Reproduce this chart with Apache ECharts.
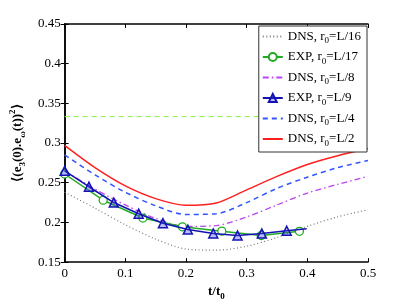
<!DOCTYPE html>
<html><head><meta charset="utf-8">
<script src="https://cdn.jsdelivr.net/npm/echarts@6/dist/echarts.min.js"></script>
<style>html,body{margin:0;padding:0;background:#fff}#c{width:407px;height:306px}</style>
</head><body><div id="c"></div>
<script>
// DNS curves sampled at t/t0
const tDNS = [0, 0.05, 0.1, 0.15, 0.2, 0.25, 0.3, 0.35, 0.4, 0.45, 0.5];
const dnsL16 = [0.238, 0.218, 0.197, 0.179, 0.1665, 0.165, 0.170, 0.181, 0.195, 0.207, 0.216];
const dnsL8  = [0.265, 0.242, 0.222, 0.205, 0.195, 0.196, 0.207, 0.222, 0.237, 0.248, 0.258];
const dnsL4  = [0.285, 0.260, 0.238, 0.221, 0.210, 0.211, 0.225, 0.243, 0.257, 0.269, 0.278];
const dnsL2  = [0.297, 0.269, 0.246, 0.230, 0.2215, 0.2245, 0.241, 0.258, 0.273, 0.284, 0.293];
// experiments
const tExp17 = [0, 0.0635, 0.129, 0.194, 0.259, 0.324, 0.387];
const expL17 = [0.261, 0.228, 0.2055, 0.1945, 0.189, 0.1835, 0.1888];
const tExp9 = [0, 0.04, 0.081, 0.122, 0.162, 0.203, 0.245, 0.285, 0.325, 0.366, 0.399];
const expL9 = [0.265, 0.245, 0.225, 0.211, 0.199, 0.191, 0.186, 0.1835, 0.186, 0.1895, 0.192];
const exp9Marked = [1, 1, 1, 1, 1, 1, 1, 1, 1, 1, 0];
// reference level 1/3
const tRef = [0, 0.5];
const refLevel = [1/3, 1/3];
const xTicks = [0, 0.1, 0.2, 0.3, 0.4, 0.5];
const yTicks = [0.15, 0.2, 0.25, 0.3, 0.35, 0.4, 0.45];
const names = ['DNS, r0=L/16', 'EXP, r0=L/17', 'DNS, r0=L/8', 'EXP, r0=L/9', 'DNS, r0=L/4', 'DNS, r0=L/2'];

const zip = (xs, ys) => xs.map((x, i) => [x, ys[i]]);
const font = 'Liberation Serif';
const chart = echarts.init(document.getElementById('c'));
const axBase = {
  type: 'value', axisLine: {show: true, lineStyle: {color: '#000', width: 1.5}},
  axisTick: {show: true, inside: true, length: 4, lineStyle: {color: '#000', width: 1}},
  splitLine: {show: false},
};
chart.setOption({
  animation: false,
  grid: {left: 54, right: 39, top: 24, bottom: 35},
  xAxis: [
    Object.assign({}, axBase, {min: 0, max: 0.5, interval: 0.1, position: 'bottom',
      axisLabel: {fontFamily: font, fontSize: 13, color: '#000', margin: 5},
      name: 't/t{s|0}', nameLocation: 'middle', nameGap: 15,
      nameTextStyle: {fontFamily: font, fontSize: 13, fontWeight: 'bold', color: '#000', verticalAlign: 'top',
        rich: {s: {fontFamily: font, fontSize: 9, fontWeight: 'bold', padding: [10, 0, 0, 0]}}}}),
    Object.assign({}, axBase, {min: 0, max: 0.5, interval: 0.1, position: 'top', axisLabel: {show: false}})
  ],
  yAxis: [
    Object.assign({}, axBase, {min: 0.15, max: 0.45, interval: 0.05, position: 'left',
      axisLabel: {fontFamily: font, fontSize: 13, color: '#000', margin: 4},
      name: '⟨(e{s|3}(0).e{s|ω}(t)){p|2}⟩', nameLocation: 'middle', nameGap: 33,
      nameTextStyle: {fontFamily: font, fontSize: 13, fontWeight: 'bold', color: '#000',
        rich: {s: {fontFamily: font, fontSize: 9, fontWeight: 'bold', padding: [10, 0, 0, 0]},
               p: {fontFamily: font, fontSize: 9, fontWeight: 'bold', padding: [0, 0, 10, 0]}}}}),
    Object.assign({}, axBase, {min: 0.15, max: 0.45, interval: 0.05, position: 'right', axisLabel: {show: false}})
  ],
  legend: {
    orient: 'vertical', right: 40, top: 26, z: 10,
    backgroundColor: '#fff', borderColor: '#333', borderWidth: 1,
    padding: [4, 6, 4, 3], itemGap: 5, itemWidth: 20, itemHeight: 10,
    data: names.map(n => n.startsWith('DNS') ? {name: n, itemStyle: {opacity: 0}} : {name: n}),
    formatter: n => n.replace('r0', 'r{s|0}'),
    textStyle: {fontFamily: font, fontSize: 13, color: '#000',
      rich: {s: {fontFamily: font, fontSize: 9, padding: [9, 0, 0, 0]}}}
  },
  series: [
    {type: 'line', name: 'ref', data: zip(tRef, refLevel), symbol: 'none', silent: true,
      lineStyle: {color: '#88ee44', width: 1, type: [5, 4]}, z: 1},
    {type: 'line', name: names[0], data: zip(tDNS, dnsL16), symbol: 'none', smooth: 0.3,
      lineStyle: {color: '#777', width: 1.2, type: [1, 2.5]}, itemStyle: {color: '#777'}},
    {type: 'line', name: names[2], data: zip(tDNS, dnsL8), symbol: 'none', smooth: 0.3,
      lineStyle: {color: '#bb44ee', width: 1.3, type: [6, 3, 1.5, 3]}, itemStyle: {color: '#bb44ee'}},
    {type: 'line', name: names[4], data: zip(tDNS, dnsL4), symbol: 'none', smooth: 0.3,
      lineStyle: {color: '#3355ff', width: 1.5, type: [5, 4]}, itemStyle: {color: '#3355ff'}},
    {type: 'line', name: names[5], data: zip(tDNS, dnsL2), symbol: 'none', smooth: 0.3,
      lineStyle: {color: '#ff2020', width: 1.5}, itemStyle: {color: '#ff2020'}},
    {type: 'line', name: names[1], data: zip(tExp17, expL17), symbol: 'circle', symbolSize: 8, showSymbol: true,
      lineStyle: {color: '#22aa22', width: 1.5}, itemStyle: {color: '#fff', borderColor: '#22aa22', borderWidth: 1.3}, z: 4},
    {type: 'line', name: names[3],
      data: tExp9.map((t, i) => ({value: [t, expL9[i]], symbol: exp9Marked[i] ? 'triangle' : 'none'})),
      symbol: 'triangle', symbolSize: 9, showSymbol: true,
      lineStyle: {color: '#1414b4', width: 1.6}, itemStyle: {color: 'rgba(60,60,230,0.35)', borderColor: '#1414b4', borderWidth: 1.5}, z: 5}
  ]
});
</script></body></html>
